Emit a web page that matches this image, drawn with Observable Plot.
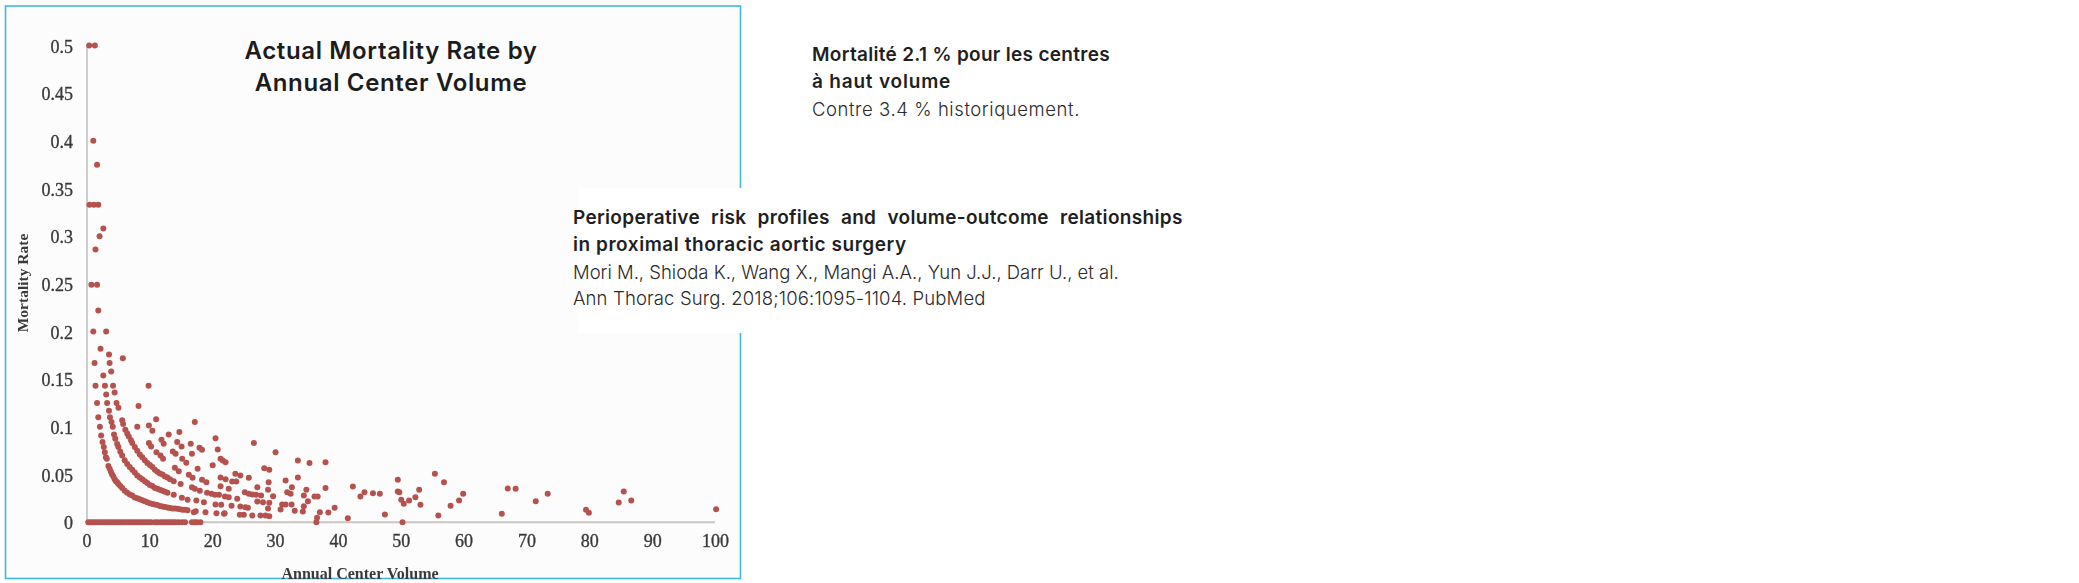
<!DOCTYPE html>
<html><head><meta charset="utf-8">
<script src="https://cdn.jsdelivr.net/npm/d3@7"></script>
<script src="https://cdn.jsdelivr.net/npm/@observablehq/plot@0.6"></script>
<style>
html,body{margin:0;padding:0;background:#fff;overflow:hidden}
#page{position:relative;width:2079px;height:583px}
svg{display:block}
g[aria-label$="tick label"]{stroke:#3a3a3a;stroke-width:.35px}
.note{position:absolute;font-family:Inter,"Noto Sans",sans-serif;white-space:nowrap;color:#2b2b2b;font-size:18.5px;line-height:26.3px}
.note b{font-weight:600;color:#1f1f1f;font-size:19px}
.note span{font-weight:300}
#title{position:absolute;left:191px;top:35px;width:400px;text-align:center;font-family:Inter,sans-serif;font-weight:600;font-size:24px;letter-spacing:.65px;line-height:32px;color:#1c1c1c}
#box{position:absolute;left:578px;top:188px;width:170px;height:145px;background:#fff}
</style></head><body><div id="page"></div>
<script>
const xTicks=[0,10,20,30,40,50,60,70,80,90,100];
const yTicks=[0,0.05,0.1,0.15,0.2,0.25,0.3,0.35,0.4,0.45,0.5];
const zeroRowX=[0.2,0.6,1,1.4,1.8,2.2,2.6,3,3.4,3.8,4.2,4.6,5,5.4,5.8,6.2,6.6,7,7.4,7.8,8.2,8.6,9,9.4,9.8,10.2,10.8,11.2,11.7,12.1,12.5,12.9,13.3,13.7,14.1,14.6,15.15,15.6,16.7,17.1,17.5,18.05,36.5,50.2];
const upperPoints=[[.35,.5],[1.25,.5],[1,.4],[1.6,.375],[.4,.333],[1.1,.333],[1.8,.333],[2.6,.308],[2,.3],[1.35,.286],[.7,.249],[1.6,.249],[1.8,.222],[1,.2],[3.05,.2],[2.15,.182],[3.5,.176],[5.7,.172],[1.2,.167],[3.6,.167],[3.85,.158],[2.6,.154],[1.35,.143],[2.85,.143],[4.15,.143],[9.8,.143],[4.4,.136],[3.05,.134],[1.6,.125],[3.2,.125],[4.7,.125],[5,.12],[8.2,.122],[3.5,.117],[1.8,.11],[11,.108],[17.15,.105],[2.05,.1],[8,.1],[9.85,.1015],[10.4,.096],[13,.092],[14.7,.0945]];
const lowestArc=[[2.25,.091],[2.47,.084],[2.67,.079],[2.83,.0735],[3,.068],[3.15,.0665],[3.4,.059],[3.6,.056],[3.8,.053],[4,.05],[4.2,.048],[4.4,.045],[4.6,.043],[4.8,.042],[5,.04],[5.3,.038],[5.6,.036],[6,.033],[6.4,.031],[6.8,.029],[7.2,.028],[7.6,.026],[8,.025],[8.4,.024],[8.8,.023],[9.2,.022],[9.6,.021],[10,.02],[10.4,.019],[10.8,.0185],[11.2,.018],[11.6,.017],[12,.0165],[12.4,.016],[12.8,.0155],[13.2,.015],[13.6,.0145],[14,.0145],[14.4,.014],[14.8,.0135],[15.2,.013],[15.6,.013],[16,.0125],[17.3,.0115],[18.85,.0105],[20.6,.0095],[21.9,.0095]];
const secondArc=[[3.65,.11],[3.9,.105],[4.1,.1],[4.3,.092],[4.5,.0875],[4.8,.082],[5,.079],[5.3,.074],[5.6,.07],[6,.065],[6.4,.061],[6.8,.058],[7.2,.055],[7.6,.052],[8,.049],[8.4,.047],[8.8,.045],[9.2,.043],[9.6,.041],[10,.039],[10.4,.038],[10.8,.036],[11.2,.035],[11.6,.034],[12,.033],[12.4,.032],[12.8,.031]];
const thirdArc=[[5.6,.107],[5.75,.103],[6.1,.097],[6.4,.093],[6.65,.09],[7,.086],[7.2,.083],[7.6,.079],[8,.075],[8.4,.071],[8.8,.068],[9.2,.065],[9.6,.062],[10,.06],[10.4,.058],[10.8,.055],[11.2,.053],[11.6,.051],[12,.05],[12.4,.048],[12.8,.047],[13.2,.045],[13.8,.043],[14.9,.04]];
const nearPoints=[[9.85,.083],[10.2,.0794],[11.85,.0865],[12.2,.0822],[11.05,.0735],[11.7,.07],[12.1,.0665],[13.65,.0742],[14.1,.0717],[14.35,.084],[15.05,.0794],[15.15,.0665],[15.8,.0623],[13.98,.057],[14.6,.0535],[16.5,.0822],[16.7,.0717],[16.2,.0497],[16.8,.0466],[17.9,.078],[18.3,.076],[17.6,.056],[16.7,.0367],[17.15,.035],[13.8,.0287],[15.1,.0256],[16,.0235],[17.4,.0228],[17,.0105]];
const midPoints=[[20.45,.088],[20.8,.0763],[26.55,.083],[30,.0735],[21.25,.0665],[21.6,.0647],[22.05,.063],[20,.0598],[33.55,.0647],[35.4,.062],[37.95,.063],[28.2,.0567],[29,.055],[21.25,.047],[22.05,.045],[18.3,.0445],[19,.042],[23.6,.0507],[24.4,.049],[23.1,.0427],[23.75,.0427],[25.75,.0466],[31.6,.0437],[33.55,.047],[28.9,.042],[21.25,.0378],[17.95,.033],[22.55,.035],[27.1,.0367],[28.8,.034],[32.6,.0367],[34.9,.034],[37.95,.036],[19.1,.0308],[19.8,.0298],[20.35,.0287],[21,.0287],[25.1,.0315],[25.75,.0298],[26.3,.029],[26.9,.0287],[27.7,.028],[31.85,.0315],[32.4,.0298],[29.6,.0273],[34.5,.028],[36.2,.027],[36.7,.027],[21.95,.027],[22.55,.0262],[23.9,.0245],[18.6,.021],[27.1,.0217],[28,.021],[29,.0204],[35.15,.022],[20.45,.0186],[21.35,.0183],[23,.0172],[24.4,.0165],[25.2,.0157],[25.6,.0151],[31.05,.0186],[31.6,.0186],[32.55,.0186],[34.5,.0168],[28.8,.0144],[30.8,.0133],[33.05,.012],[34.35,.0112],[37.05,.0105],[38.4,.0102],[39.4,.0151],[24.3,.0078],[24.95,.0078],[26.3,.007],[27.6,.007],[28.4,.007],[29,.0063],[36.6,.0046],[21.8,.0088]];
const farPoints=[[41.5,.0042],[42.3,.0375],[43.5,.027],[44.15,.0315],[45.5,.0304],[46.6,.0298],[47.4,.0081],[49.45,.0445],[49.45,.0322],[49.7,.0315],[50,.0235],[50.4,.0193],[51.25,.0228],[52.25,.0262],[52.85,.034],[53.05,.0183],[55.35,.0508],[56.8,.042],[55.9,.007],[57.85,.0172],[59.2,.0228],[59.85,.0298],[66.95,.0354],[68.2,.035],[66,.0088],[71.4,.022],[73.3,.0298],[79.4,.013],[79.85,.0099],[84.6,.0207],[85.4,.0322],[86.6,.0228],[100.1,.0136]];
const xLabel="Annual Center Volume", yLabel="Mortality Rate";

const centers=[...zeroRowX.map(x=>[x,0]),...upperPoints,...lowestArc,...secondArc,...thirdArc,...nearPoints,...midPoints,...farPoints];
const serif='"Liberation Serif",serif';
const chart=Plot.plot({
  width:2079,height:583,
  marginLeft:5,marginRight:1339,marginTop:5.5,marginBottom:5,
  style:{background:"transparent"},
  x:{domain:[0,100],range:[86.5,715],axis:null},
  y:{domain:[0,.5],range:[521.7,45],axis:null},
  marks:[
    Plot.frame({fill:"#fcfcfc",stroke:"#3fb7e2",strokeWidth:1.6}),
    Plot.ruleY([0],{x1:0,x2:100,stroke:"#c9c6c4",strokeWidth:2}),
    Plot.ruleX([0],{y1:0,y2:.5,stroke:"#cdcdcd",strokeWidth:2}),
    Plot.axisX(xTicks,{anchor:"bottom",tickSize:0,tickPadding:0,dy:-44,label:null,fontSize:18,fontFamily:serif,fill:"#3a3a3a",imageFilter:"blur(0.45px)",tickFormat:d=>String(d)}),
    Plot.axisY(yTicks,{anchor:"left",tickSize:0,tickPadding:0,dx:67.5,dy:1.5,label:null,fontSize:18,fontFamily:serif,fill:"#3a3a3a",imageFilter:"blur(0.45px)",tickFormat:d=>String(d)}),
    Plot.text([xLabel],{frameAnchor:"bottom-left",dx:276,dy:0,fontSize:16,fontWeight:"bold",fontFamily:serif,fill:"#3a3a3a",textAnchor:"start",imageFilter:"blur(0.4px)"}),
    Plot.text([yLabel],{frameAnchor:"top-left",dx:18,dy:277,rotate:-90,textAnchor:"middle",lineAnchor:"middle",fontSize:15.5,fontWeight:"bold",fontFamily:serif,fill:"#3a3a3a",imageFilter:"blur(0.4px)"}),
    Plot.dot(centers,{x:d=>d[0],y:d=>d[1],r:3,fill:"#b5524e",stroke:"none",imageFilter:"blur(0.5px)"})
  ]
});
const page=document.getElementById("page");
page.appendChild(chart);
page.insertAdjacentHTML("beforeend",`
<div id="title">Actual Mortality Rate by<br>Annual Center Volume</div>
<div id="box"></div>
<div class="note" style="left:812px;top:41px"><b style="letter-spacing:.3px">Mortalité 2.1 % pour les centres</b><br><b style="letter-spacing:.8px">à haut volume</b><br><span style="letter-spacing:.57px">Contre 3.4 % historiquement.</span></div>
<div class="note" style="left:573px;top:204px"><b style="letter-spacing:.33px;word-spacing:6px">Perioperative risk profiles and volume-outcome relationships</b><br><b style="letter-spacing:.55px">in proximal thoracic aortic surgery</b><br><span>Mori M., Shioda K., Wang X., Mangi A.A., Yun J.J., Darr U., et al.</span><br><span style="letter-spacing:.14px">Ann Thorac Surg. 2018;106:1095-1104. PubMed</span></div>`);
</script></body></html>
